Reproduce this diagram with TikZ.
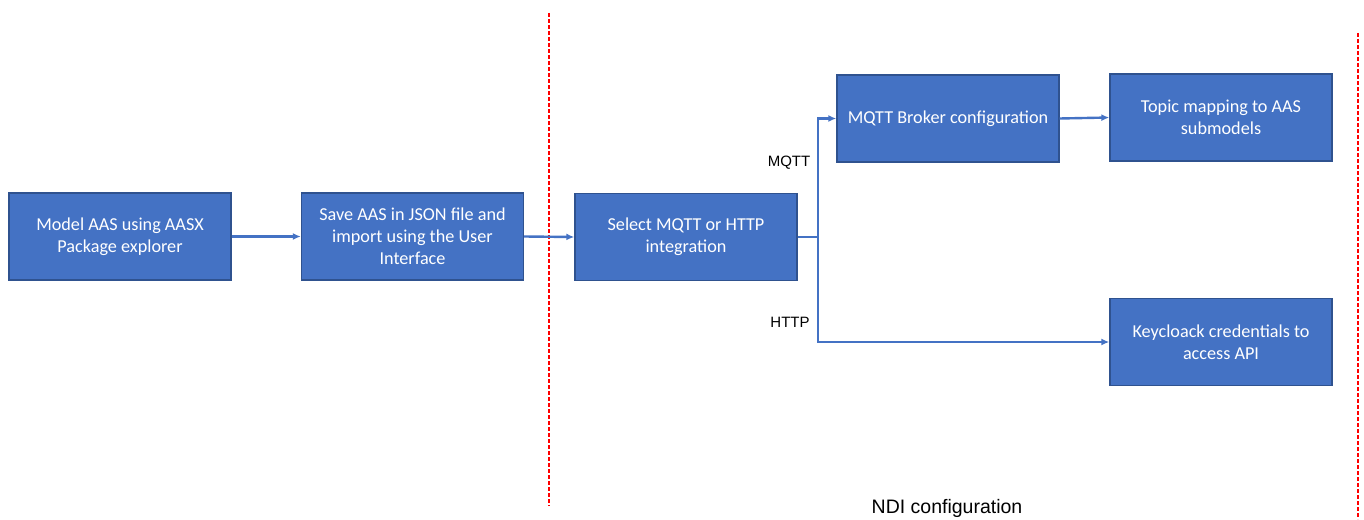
\documentclass[tikz,border=0pt]{standalone}
\usepackage{fontspec}
\setmainfont{Carlito}
\newfontfamily\labelfont{Liberation Sans}
\usetikzlibrary{arrows.meta}
\definecolor{boxfill}{HTML}{4472C4}
\definecolor{boxedge}{HTML}{2F528F}
\definecolor{flow}{HTML}{4472C4}
\definecolor{divider}{HTML}{FF0000}
\begin{document}
\begin{tikzpicture}[x=1pt,y=-1pt,
  stepbox/.style={draw=boxedge, line width=1.4pt, fill=boxfill, text=white,
    minimum width=222pt, minimum height=87pt, inner sep=0pt, align=center,
    font=\fontsize{18.2}{22}\selectfont},
  flowline/.style={draw=flow, line width=2.4pt, -{Latex[length=8pt,width=7pt]}},
  branch/.style={draw=flow, line width=2.4pt},
  sep/.style={draw=divider, line width=1.4pt, dash pattern=on 4pt off 2pt},
  tag/.style={font=\labelfont\fontsize{15}{18}\selectfont, text=black}]
\useasboundingbox (0,0) rectangle (1364,519);

% process steps
\node[stepbox] (model)  at (120,236.5) {Model AAS using AASX\\Package explorer};
\node[stepbox] (save)   at (412.5,236.5) {Save AAS in JSON file and\\import using the User\\Interface};
\node[stepbox] (select) at (686,237) {Select MQTT or HTTP\\integration};
\node[stepbox] (broker) at (948,118.5) {MQTT Broker configuration};
\node[stepbox] (topic)  at (1221,117.5) {Topic mapping to AAS\\submodels};
\node[stepbox] (keycl)  at (1221,342) {Keycloack credentials to\\access API};

% section dividers
\coordinate (d1t) at (549,13);
\coordinate (d1b) at (549,506);
\coordinate (d2t) at (1358,33);
\coordinate (d2b) at (1358,519);
\draw[sep] (d1t) -- (d1b);
\draw[sep] (d2t) -- (d2b);

% connectors
\draw[flowline] (model.east) -- (save.west);
\draw[flowline] (save.east) -- (select.west);
\coordinate (fork) at (818,237);
\draw[branch] (select.east) -- (fork);
\draw[flowline] (fork) |- (broker.west);
\draw[flowline] (fork) |- (keycl.west);
\draw[flowline] (broker.east) -- (topic.west);

% branch labels
\node[tag] (mqtt) at (789,162.5) {MQTT};
\node[tag] (http) at (790,322) {HTTP};
\node[tag, font=\labelfont\fontsize{19.5}{22}\selectfont] (ndi) at (947,508.5) {NDI configuration};
\end{tikzpicture}
\end{document}
